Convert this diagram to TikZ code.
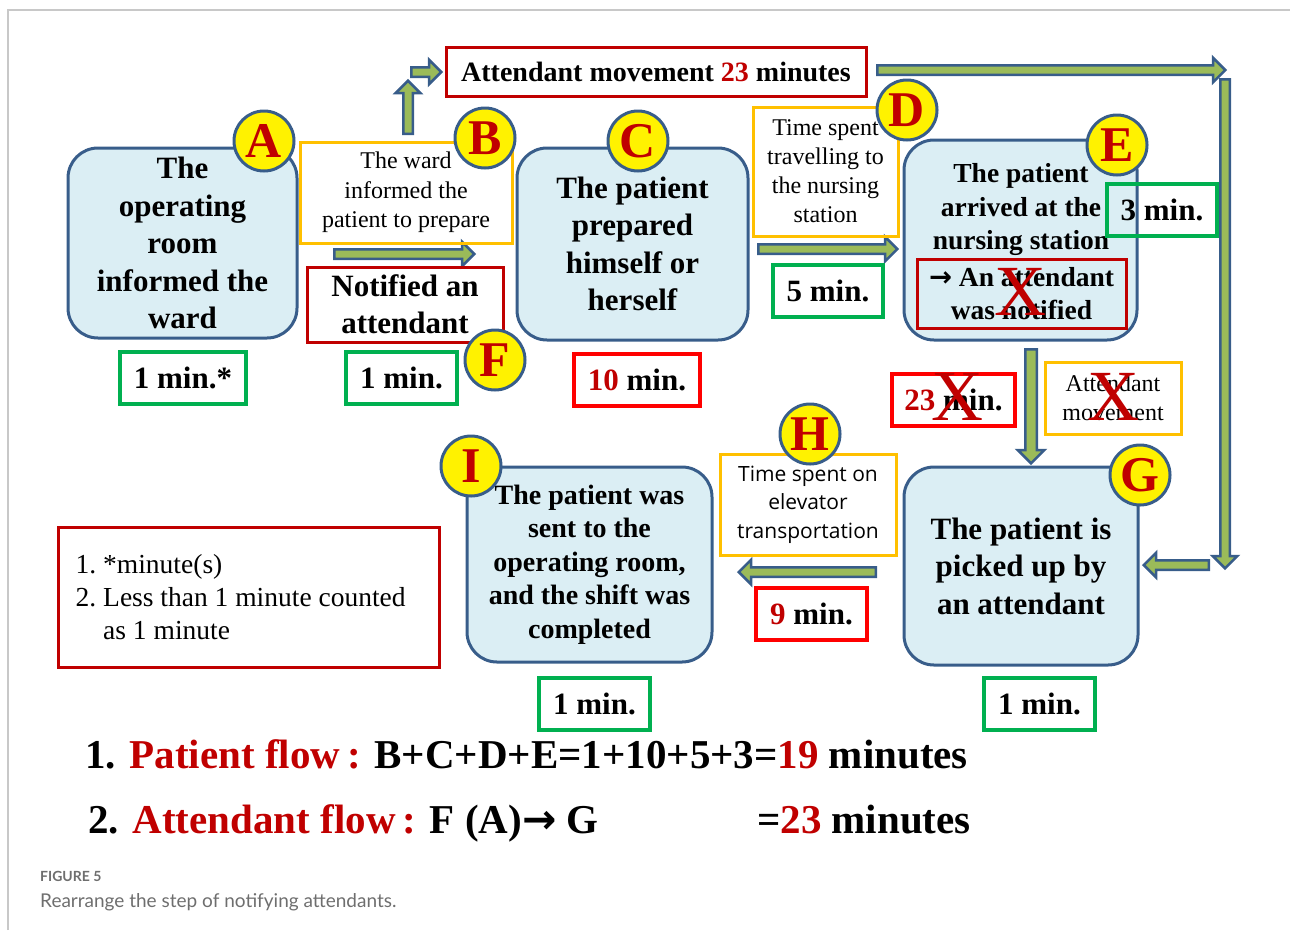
\documentclass[tikz,border=0pt]{standalone}
\usepackage{fontspec}
\setmainfont{Liberation Serif}
\newfontfamily\uisans{Open Sans}
\newfontfamily\capsans{Lato}
\newfontfamily\arrowfont{DejaVu Sans}
\usetikzlibrary{shapes.arrows, positioning}

\definecolor{boxblue}{RGB}{56,93,138}
\definecolor{boxfill}{RGB}{219,238,244}
\definecolor{arrowgreen}{RGB}{155,187,89}
\definecolor{darkred}{RGB}{192,0,0}
\definecolor{timegreen}{RGB}{0,176,80}
\definecolor{timered}{RGB}{255,0,0}
\definecolor{boxorange}{RGB}{255,192,0}
\definecolor{framegray}{RGB}{200,200,200}
\definecolor{capgray}{RGB}{110,110,110}

\newcommand{\fs}[2]{\fontsize{#1}{#2}\selectfont}
\newcommand{\toarrow}{{\arrowfont\bfseries →}}

\tikzset{
  stepbox/.style={draw=boxblue, fill=boxfill, line width=3pt, rounded corners=30pt,
    align=center, inner sep=0pt, font=\bfseries\fs{31}{37.5}},
  badge/.style={circle, draw=boxblue, fill=yellow, line width=3pt, minimum size=60pt,
    inner sep=0pt, text=darkred, font=\bfseries\fs{50}{50}},
  mins/.style={draw=timegreen, line width=4pt, minimum height=52pt, inner sep=0pt,
    font=\bfseries\fs{31}{31}},
  redmins/.style={mins, draw=timered},
  infobox/.style={draw=boxorange, line width=3pt, align=center, inner sep=0pt,
    font=\fs{24}{29.5}},
  notebox/.style={draw=darkred, line width=3pt, inner sep=0pt},
  fatarrow/.style={single arrow, draw=boxblue, fill=arrowgreen, line width=2.5pt,
    inner sep=0pt, inner ysep=3.5pt, single arrow head extend=7.5pt,
    single arrow head indent=0pt, minimum height=#1, anchor=tail},
  cross/.style={text=darkred, inner sep=0pt, font=\fs{72}{72}},
  flowtext/.style={anchor=base west, inner sep=0pt, font=\bfseries\fs{41}{41}}
}

\begin{document}
\begin{tikzpicture}[x=1pt, y=-1pt]
  \useasboundingbox (0,0) rectangle (1290,930);
  \draw[framegray, line width=1.5pt] (8,930) -- (8,10) -- (1290,10);

  % block arrows (tail given, then length)
  \node[fatarrow=53pt, rotate=90] (upB) at (408,135) {};
  \node[fatarrow=30pt] (toMove) at (410,72) {};
  \node[fatarrow=140pt] (arBC) at (333,254) {};
  \node[fatarrow=139pt] (arDE) at (757,249) {};
  \node[fatarrow=348pt] (arTop) at (876,70) {};
  \node[fatarrow=489pt, rotate=-90] (arRight) at (1225,78) {};
  \node[fatarrow=65pt, rotate=180] (arToG) at (1210,565) {};
  \node[fatarrow=114pt, rotate=-90, inner ysep=4.5pt] (arEG) at (1031,348) {};
  \node[fatarrow=137pt, rotate=180] (arHI) at (877,572) {};

  % steps
  \node[stepbox, minimum width=229pt, minimum height=190pt] (stA) at (182.5,243)
    {The\\operating\\room\\informed the\\ward};
  \node[stepbox, minimum width=231pt, minimum height=192pt] (stC) at (632.5,244)
    {The patient\\prepared\\himself or\\herself};
  \node[stepbox, minimum width=233pt, minimum height=200pt] (stE) at (1020.5,240) {};
  \node[font=\bfseries\fs{27.5}{33.5}, align=center, inner sep=0pt] (txE) at (1021,209.5)
    {The patient\\arrived at the\\nursing station};
  \node[notebox, minimum width=209pt, minimum height=69pt, align=center,
    font=\bfseries\fs{27.5}{33}] (ntE) at (1021.5,293.5) {\toarrow{} An attendant\\was notified};
  \node[stepbox, minimum width=234pt, minimum height=198pt] (stG) at (1021,566)
    {The patient is\\picked up by\\an attendant};
  \node[stepbox, minimum width=245pt, minimum height=195pt, font=\bfseries\fs{28}{33.5}]
    (stI) at (589.5,564.5)
    {The patient was\\sent to the\\operating room,\\and the shift was\\completed};

  % explanations
  \node[infobox, minimum width=212pt, minimum height=101pt] (inB) at (406,192.5)
    {The ward\\informed the\\patient to prepare};
  \node[infobox, minimum width=145pt, minimum height=129pt, font=\fs{24}{29}] (inD)
    at (825.5,171.5) {Time spent\\travelling to\\the nursing\\station};
  \node[infobox, minimum width=176pt, minimum height=101pt, font=\uisans\fs{21}{28.5}]
    (inH) at (808,504.5) {Time spent on\\elevator\\transportation};
  \node[infobox, minimum width=136pt, minimum height=72pt, font=\fs{24}{29}] (inX)
    at (1113,398) {Attendant\\movement};

  \node[notebox, minimum width=420pt, minimum height=49pt, font=\bfseries\fs{28}{28}]
    (mvTop) at (656,71.5) {Attendant movement {\color{darkred}23} minutes};
  \node[notebox, minimum width=196pt, minimum height=75pt, align=center,
    font=\bfseries\fs{31}{37}] (ntF) at (405,304.5) {Notified an\\attendant};
  \node[notebox, minimum width=381pt, minimum height=140pt] (note) at (248.5,597) {};
  \node[anchor=west, align=left, inner sep=0pt, font=\fs{27.5}{33}] (noteTxt)
    at ([xshift=19pt]note.west) {1.\ *minute(s)\\2.\ Less than 1 minute counted\\\phantom{2.\ }as 1 minute};

  % durations
  \node[mins, minimum width=126pt] (tmA) at (183,378) {1 min.*};
  \node[mins, minimum width=111pt] (tmB) at (401.5,378) {1 min.};
  \node[redmins, minimum width=126pt] (tmC) at (637,380) {{\color{darkred}10} min.};
  \node[mins, minimum width=110pt] (tmD) at (828,290.5) {5 min.};
  \node[mins, minimum width=110pt] (tmE) at (1162,210) {3 min.};
  \node[redmins, minimum width=123pt] (tmX) at (953.5,400) {{\color{darkred}23} min.};
  \node[mins, minimum width=111pt] (tmG) at (1039.5,704) {1 min.};
  \node[redmins, minimum width=111pt] (tmH) at (811.5,614) {{\color{darkred}9} min.};
  \node[mins, minimum width=111pt] (tmI) at (594.5,704) {1 min.};

  % letters
  \foreach \n/\x/\y in {A/264/141, B/485/138, C/638/141, D/907/110, E/1117/145,
                        F/495/360, G/1140/475, H/810/434, I/471/466}
    \node[badge] (bd\n) at (\x,\y) {\n};

  % removed steps
  \node[cross] (xE) at (1020,292) {X};
  \node[cross] (xMin) at (957,397) {X};
  \node[cross] (xMov) at (1113,397) {X};

  % totals
  \node[flowtext] (flowP) at (85,768)
    {1. {\color{darkred}Patient flow\,:} B+C+D+E=1+10+5+3={\color{darkred}19} minutes};
  \node[flowtext] (flowA) at (88,833) {2. {\color{darkred}Attendant flow\,:} F (A)\toarrow{} G};
  \node[flowtext] (flowSum) at (757,833) {={\color{darkred}23} minutes};

  \node[anchor=west, inner sep=0pt, text=capgray, font=\capsans\bfseries\fs{14}{14}]
    (figNo) at (40,876) {FIGURE 5};
  \node[anchor=west, inner sep=0pt, text=capgray, font=\capsans\fs{19}{19}]
    (figCap) at (40,902) {Rearrange the step of notifying attendants.};
\end{tikzpicture}
\end{document}
